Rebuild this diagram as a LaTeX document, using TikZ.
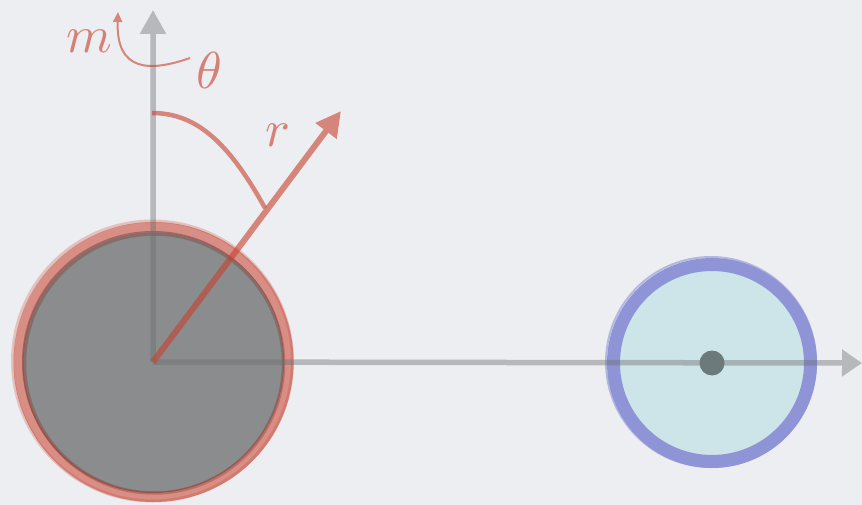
\documentclass[tikz,border=0pt]{standalone}
\usepackage{graphicx}
\usetikzlibrary{arrows.meta}
\definecolor{bgc}{RGB}{236,238,241}
\definecolor{ballgray}{RGB}{138,140,142}
\definecolor{redc}{RGB}{200,64,45}
\definecolor{redtext}{RGB}{214,128,118}
\definecolor{axisc}{RGB}{108,110,113}
\definecolor{bluec}{RGB}{142,148,214}
\definecolor{cyanc}{RGB}{205,228,232}
\definecolor{dotc}{RGB}{108,122,122}
\newcommand{\biglbl}[1]{\scalebox{5.2}{$#1$}}
\begin{document}
\begin{tikzpicture}[x=1pt,y=-1pt,
  axisline/.style={draw=axisc, line width=5.5pt},
  redline/.style={draw=redc, line width=6pt},
  lbl/.style={text=redtext, inner sep=0pt}]
\useasboundingbox (0,0) rectangle (862,505);
\fill[bgc] (0,0) rectangle (862,505);
% coordinates
\coordinate (O) at (153,362);
\coordinate (B) at (712,363);
\coordinate (ytip) at (153,10);
\coordinate (xtip) at (862,363);
\coordinate (rtip) at (341,111);
\coordinate (a0) at (152,113);
\coordinate (a1) at (265,208);
\coordinate (ms) at (190,58);
\coordinate (mt) at (118,12);
% big ball
\fill[ballgray] (O) circle[radius=131];
\draw[redc, opacity=0.55, line width=10pt] (153.5,362) circle[radius=135];
\draw[redc, opacity=0.25, line width=3pt] (152.5,361) circle[radius=140];
\draw[redc!60!black, opacity=0.3, line width=3.5pt] (154,363.5) circle[radius=129.5];
% small ball
\fill[cyanc] (B) circle[radius=94];
\draw[bluec, line width=13pt] (B) circle[radius=98.5];
\draw[bluec, opacity=0.6, line width=2pt] (711,362) circle[radius=105];
% axes
\begin{scope}[transparency group, opacity=0.42]
\draw[axisline, -{Triangle[length=24pt,width=25pt]}] (O) -- (ytip);
\draw[axisline, -{Triangle[length=20pt,width=26pt]}] (O) -- (xtip);
\end{scope}
% radius arrow and angle arc
\begin{scope}[transparency group, opacity=0.6]
\draw[redline, -{Triangle[length=25pt,width=25pt]}] (O) -- (rtip);
\end{scope}
\draw[redc, opacity=0.6, line width=4.5pt] (a0) .. controls (198,113) and (230,145) .. (a1);
% centre dot
\fill[dotc] (B) circle[radius=12.5];
% labels
\node[lbl, anchor=base] (m) at (89.5,53) {\biglbl{m}};
\node[lbl, anchor=base] (th) at (209.5,89) {\biglbl{\theta}};
\node[lbl, anchor=base] (r) at (277.5,147) {\biglbl{r}};
\begin{scope}[transparency group, opacity=0.6]
\draw[redc, line width=2pt, -{Triangle[length=10pt,width=9pt]}] (ms) .. controls (150,72) and (116,72) .. (mt);
\end{scope}
\end{tikzpicture}
\end{document}
